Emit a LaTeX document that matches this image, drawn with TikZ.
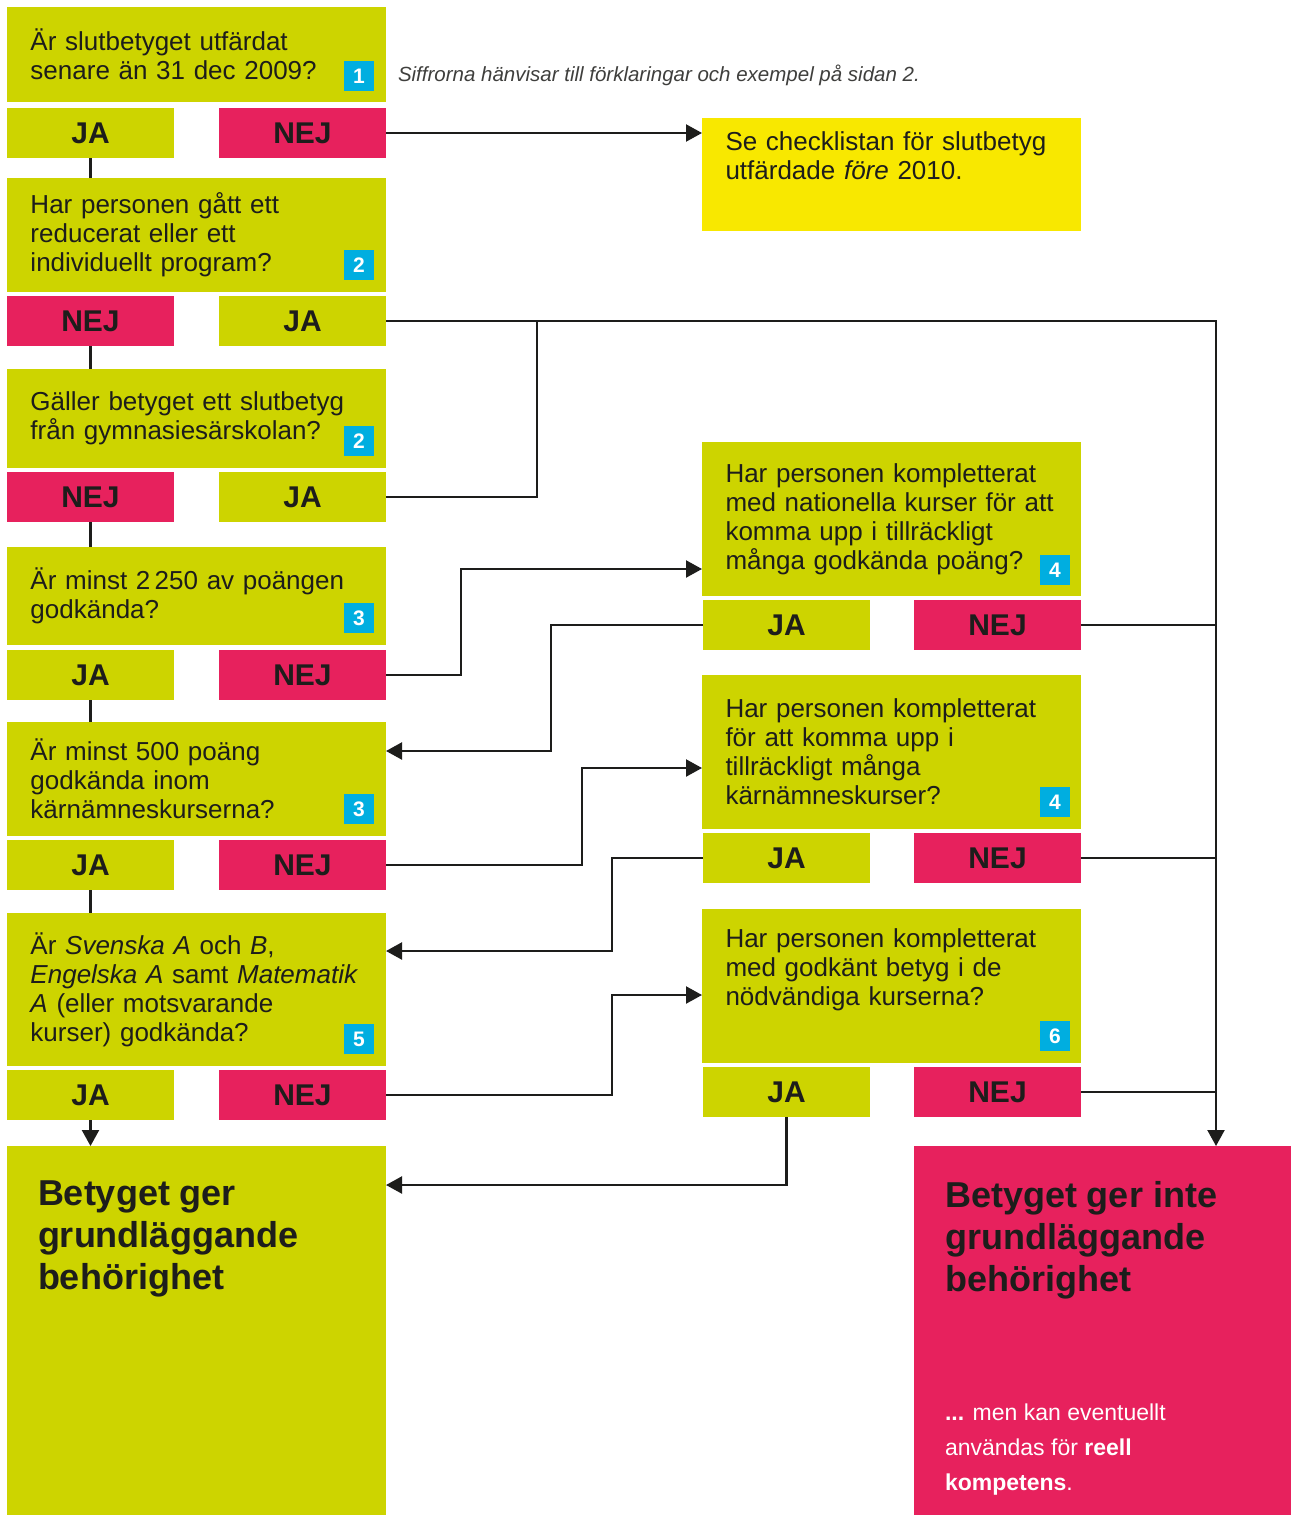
\documentclass[tikz,border=0pt]{standalone}
\usepackage{fontspec}
\setmainfont{Liberation Sans}
\usetikzlibrary{arrows.meta}

\definecolor{lime}{HTML}{CDD400}
\definecolor{rose}{HTML}{E7215D}
\definecolor{sun}{HTML}{F8E800}
\definecolor{sky}{HTML}{00AEE0}
\definecolor{ink}{HTML}{1D1D1B}

\begin{document}
\begin{tikzpicture}[x=1pt, y=-1pt,
    every node/.style={inner sep=0pt, outer sep=0pt, text=ink},
    q/.style={fill=lime, anchor=north west, minimum width=379pt, minimum height=#1,
        text width=332pt, inner xsep=23.5pt, align=left, font=\fontsize{26}{29}\selectfont},
    ja/.style={fill=lime, anchor=north west, minimum width=167pt, minimum height=50pt,
        font=\bfseries\fontsize{30}{30}\selectfont},
    nej/.style={ja, fill=rose},
    badge/.style={fill=sky, anchor=south east, minimum size=30pt, text=white,
        font=\bfseries\fontsize{21}{21}\selectfont},
    final/.style={fill=#1, anchor=north west, minimum height=369pt},
    title/.style={anchor=north west, align=left, font=\bfseries\fontsize{36}{42}\selectfont},
    line/.style={draw=ink, line width=2.2pt},
    arrow/.style={line, -{Triangle[length=16pt, width=17pt]}}
]
    \useasboundingbox[fill=white] (0,0) rectangle (1291,1515);

    % Left column
    \node[q=95pt] (q1) at (7,7) {Är slutbetyget utfärdat\\senare än 31 dec 2009?};
    \node[badge] (b1) at ([xshift=-12pt, yshift=11pt]q1.south east) {1};
    \node[ja] (ja1) at (7,108) {JA};
    \node[nej] (nej1) at (219,108) {NEJ};

    \node[q=114pt] (q2) at (7,178) {Har personen gått ett\\reducerat eller ett\\individuellt program?};
    \node[badge] (b2) at ([xshift=-12pt, yshift=12pt]q2.south east) {2};
    \node[nej] (nej2) at (7,296) {NEJ};
    \node[ja] (ja2) at (219,296) {JA};

    \node[q=99pt] (q3) at (7,369) {Gäller betyget ett slutbetyg\\från gymnasiesärskolan?};
    \node[badge] (b3) at ([xshift=-12pt, yshift=12pt]q3.south east) {2};
    \node[nej] (nej3) at (7,472) {NEJ};
    \node[ja] (ja3) at (219,472) {JA};

    \node[q=98pt] (q4) at (7,547) {Är minst 2\,250 av poängen\\godkända?};
    \node[badge] (b4) at ([xshift=-12pt, yshift=12pt]q4.south east) {3};
    \node[ja] (ja4) at (7,650) {JA};
    \node[nej] (nej4) at (219,650) {NEJ};

    \node[q=114pt] (q5) at (7,722) {Är minst 500 poäng\\godkända inom\\kärnämneskurserna?};
    \node[badge] (b5) at ([xshift=-12pt, yshift=12pt]q5.south east) {3};
    \node[ja] (ja5) at (7,840) {JA};
    \node[nej] (nej5) at (219,840) {NEJ};

    \node[q=153pt] (q6) at (7,913) {Är \emph{Svenska A} och \emph{B},\\\emph{Engelska A} samt \emph{Matematik}\\\emph{A} (eller motsvarande\\kurser) godkända?};
    \node[badge] (b6) at ([xshift=-12pt, yshift=12pt]q6.south east) {5};
    \node[ja] (ja6) at (7,1070) {JA};
    \node[nej] (nej6) at (219,1070) {NEJ};

    \node[final=lime, minimum width=379pt] (ok) at (7,1146) {};
    \node[title] (oktext) at (38,1181) {Betyget ger\\grundläggande\\behörighet};

    % Right column
    \node[anchor=west, font=\itshape\fontsize{20.5}{24}\selectfont, text=ink!85] (note) at (398,75)
        {Siffrorna hänvisar till förklaringar och exempel på sidan 2.};
    \node[q=113pt, fill=sun] (check) at (702,118) {Se checklistan för slutbetyg\\utfärdade \emph{före} 2010.\\\strut};

    \node[q=154pt] (r1) at (702,442) {Har personen kompletterat\\med nationella kurser för att\\komma upp i tillräckligt\\många godkända poäng?};
    \node[badge] (c1) at ([xshift=-11pt, yshift=11pt]r1.south east) {4};
    \node[ja] (jr1) at (703,600) {JA};
    \node[nej] (nr1) at (914,600) {NEJ};

    \node[q=154pt] (r2) at (702,675) {Har personen kompletterat\\för att komma upp i\\tillräckligt många\\kärnämneskurser?};
    \node[badge] (c2) at ([xshift=-11pt, yshift=12pt]r2.south east) {4};
    \node[ja] (jr2) at (703,833) {JA};
    \node[nej] (nr2) at (914,833) {NEJ};

    \node[q=154pt] (r3) at (702,909) {Har personen kompletterat\\med godkänt betyg i de\\nödvändiga kurserna?\\\strut};
    \node[badge] (c3) at ([xshift=-11pt, yshift=12pt]r3.south east) {6};
    \node[ja] (jr3) at (703,1067) {JA};
    \node[nej] (nr3) at (914,1067) {NEJ};

    \node[final=rose, minimum width=377pt] (notok) at (914,1146) {};
    \node[title] (notoktext) at (945,1181) {Betyget ger inte\\grundläggande\\behörighet};
    \node[anchor=north west, align=left, text=white, font=\fontsize{23}{35}\selectfont] (reell) at (945,1404)
        {\textbf{...} men kan eventuellt\\användas för \textbf{reell}\\\textbf{kompetens}.};

    % Down the left column
    \draw[line] (ja1.south) -- (ja1.south |- q2.north);
    \draw[line] (nej2.south) -- (nej2.south |- q3.north);
    \draw[line] (nej3.south) -- (nej3.south |- q4.north);
    \draw[line] (ja4.south) -- (ja4.south |- q5.north);
    \draw[line] (ja5.south) -- (ja5.south |- q6.north);
    \draw[arrow] (ja6.south) -- (ja6.south |- ok.north);

    % Branches across
    \coordinate (rail) at (1216,321);
    \draw[arrow] (nej1.east) -- (nej1.east -| check.west);
    \draw[arrow] (ja2.east) -- (rail) -- (rail |- notok.north);
    \draw[line] (ja3.east) -| ([xshift=151pt]ja2.east);
    \draw[arrow] (nej4.east) -- ++(75,0) |- ([yshift=-50pt]r1.west);
    \draw[arrow] (jr1.west) -- ++(-152,0) |- ([yshift=28pt]q5.east);
    \draw[arrow] (nej5.east) -- ++(196,0) |- ([yshift=-16pt]r2.west);
    \draw[arrow] (jr2.west) -- ++(-91,0) |- ([yshift=38.5pt]q6.east);
    \draw[arrow] (nej6.east) -- ++(226,0) |- ([yshift=-9pt]r3.west);
    \draw[arrow] (jr3.south) |- ([yshift=145.5pt]ok.east);

    % To the rail
    \draw[line] (nr1.east) -- (nr1.east -| rail);
    \draw[line] (nr2.east) -- (nr2.east -| rail);
    \draw[line] (nr3.east) -- (nr3.east -| rail);
\end{tikzpicture}
\end{document}
